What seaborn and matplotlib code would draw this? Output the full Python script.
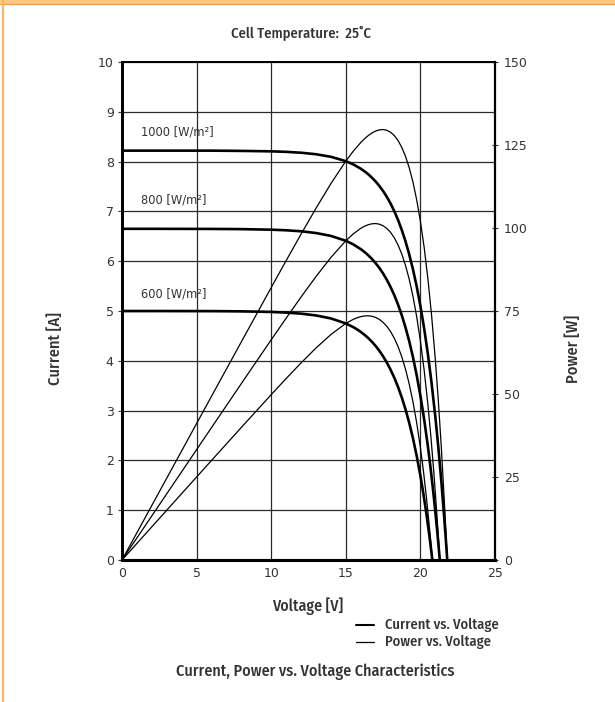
"""Solar module I-V / P-V characteristics at 25 C."""

import matplotlib
matplotlib.use("Agg")
import matplotlib.pyplot as plt
from matplotlib.lines import Line2D
from matplotlib.patches import Rectangle
import pandas as pd
import seaborn as sns

# --- values ------------------------------------------------------------------
IRRADIANCE = ["1000", "800", "600"]

V_1000 = [0, 2, 4, 6, 8, 10, 11, 12, 13, 14, 15, 15.5, 16, 16.25, 16.5, 16.75,
          17, 17.25, 17.5, 17.75, 18, 18.25, 18.5, 18.75, 19, 19.25, 19.5,
          19.75, 20, 20.25, 20.5, 20.75, 21, 21.2, 21.4, 21.6, 21.7, 21.8]
I_1000 = [8.22, 8.22, 8.22, 8.22, 8.215, 8.206, 8.196, 8.178, 8.148, 8.097,
          8.009, 7.944, 7.858, 7.806, 7.747, 7.678, 7.600, 7.511, 7.409, 7.292,
          7.158, 7.005, 6.830, 6.629, 6.400, 6.138, 5.839, 5.494, 5.101, 4.653,
          4.138, 3.550, 2.877, 2.269, 1.593, 0.839, 0.431, 0.0]
P_1000 = [0, 16.44, 32.88, 49.32, 65.72, 82.06, 90.16, 98.14, 105.92, 113.36,
          120.14, 123.13, 125.73, 126.85, 127.83, 128.61, 129.20, 129.56,
          129.66, 129.43, 128.84, 127.84, 126.36, 124.29, 121.60, 118.16,
          113.86, 108.51, 102.02, 94.22, 84.83, 73.66, 60.42, 48.10, 34.09,
          18.12, 9.35, 0]

V_800 = [0, 2, 4, 6, 8, 10, 11, 12, 13, 14, 15, 15.5, 16, 16.25, 16.5, 16.75,
         17, 17.25, 17.5, 17.75, 18, 18.25, 18.5, 18.75, 19, 19.25, 19.5,
         19.75, 20, 20.25, 20.5, 20.7, 20.9, 21.1, 21.2, 21.3]
I_800 = [6.65, 6.65, 6.649, 6.648, 6.644, 6.633, 6.621, 6.601, 6.566, 6.508,
         6.410, 6.337, 6.243, 6.186, 6.120, 6.046, 5.961, 5.864, 5.753, 5.626,
         5.482, 5.318, 5.130, 4.916, 4.671, 4.394, 4.075, 3.712, 3.298, 2.827,
         2.288, 1.803, 1.264, 0.665, 0.341, 0.0]
P_800 = [0, 13.30, 26.60, 39.89, 53.15, 66.33, 72.83, 79.21, 85.36, 91.11,
         96.15, 98.23, 99.89, 100.52, 100.98, 101.27, 101.34, 101.15, 100.68,
         99.86, 98.68, 97.05, 94.91, 92.18, 88.75, 84.58, 79.46, 73.31, 65.96,
         57.25, 46.90, 37.32, 26.42, 14.03, 7.23, 0]

V_600 = [0, 2, 4, 6, 8, 10, 11, 12, 13, 14, 15, 15.5, 15.75, 16, 16.25, 16.5,
         16.75, 17, 17.25, 17.5, 17.75, 18, 18.25, 18.5, 18.75, 19, 19.25,
         19.5, 19.75, 20, 20.2, 20.4, 20.6, 20.7, 20.8]
I_600 = [5.0, 5.0, 4.999, 4.998, 4.993, 4.981, 4.968, 4.947, 4.911, 4.851,
         4.750, 4.676, 4.632, 4.581, 4.523, 4.458, 4.383, 4.298, 4.201, 4.090,
         3.965, 3.822, 3.660, 3.476, 3.266, 3.027, 2.755, 2.445, 2.093, 1.692,
         1.332, 0.933, 0.490, 0.252, 0.0]
P_600 = [0, 10.0, 20.0, 29.99, 39.94, 49.81, 54.65, 59.36, 63.84, 67.91, 71.25,
         72.48, 72.95, 73.30, 73.50, 73.56, 73.42, 73.07, 72.47, 71.58, 70.38,
         68.80, 66.80, 64.31, 61.24, 57.51, 53.03, 47.68, 41.34, 33.84, 26.91,
         19.03, 10.09, 5.22, 0]

X_TICKS = [0, 5, 10, 15, 20, 25]
Y_TICKS = list(range(0, 11))
P_TICKS = [0, 25, 50, 75, 100, 125, 150]

LABEL_FONT = ["Fira Sans Condensed", "PT Sans Narrow", "DejaVu Sans"]
TEXT = "#333333"
ORANGE = "#F7B567"


def _frame(volts, values, name):
    return pd.DataFrame({"V": volts, "y": values, "curve": name})


sns.set_theme(style="white")
plt.rcParams.update({
    "font.family": ["DejaVu Sans"],
    "xtick.color": TEXT,
    "ytick.color": TEXT,
    "xtick.labelcolor": TEXT,
    "ytick.labelcolor": TEXT,
})

fig = plt.figure(figsize=(6.15, 7.02), dpi=100)
fig.patch.set_facecolor("white")

# orange page frame (top band + left rule)
fig.patches.append(Rectangle((0, 1 - 4 / 702), 1, 4 / 702, transform=fig.transFigure,
                             facecolor="#FFC782", edgecolor="none"))
fig.add_artist(Line2D([0, 1], [1 - 3.5 / 702] * 2, transform=fig.transFigure,
                      color="#F2A24E", lw=1.0))
fig.add_artist(Line2D([3 / 615] * 2, [0, 1], transform=fig.transFigure,
                      color=ORANGE, lw=1.6))

ax = fig.add_axes([122 / 615, (702 - 560) / 702, 373 / 615, 498 / 702])
ax2 = ax.twinx()

current = pd.concat([_frame(V_1000, I_1000, "1000"),
                     _frame(V_800, I_800, "800"),
                     _frame(V_600, I_600, "600")])
power = pd.concat([_frame(V_1000, P_1000, "1000"),
                   _frame(V_800, P_800, "800"),
                   _frame(V_600, P_600, "600")])

for name in IRRADIANCE:
    sns.lineplot(data=current[current["curve"] == name], x="V", y="y", ax=ax,
                 color="black", linewidth=1.9, sort=False, estimator=None)
    sns.lineplot(data=power[power["curve"] == name], x="V", y="y", ax=ax2,
                 color="black", linewidth=0.9, sort=False, estimator=None)

ax.set_xlim(0, 25)
ax.set_ylim(0, 10)
ax2.set_ylim(0, 150)
ax.set_xticks(X_TICKS)
ax.set_yticks(Y_TICKS)
ax2.set_yticks(P_TICKS)
ax.set_xlabel("")
ax.set_ylabel("")
ax2.set_ylabel("")

ax.grid(True, color="#2a2a2a", linewidth=0.9)
ax.set_axisbelow(True)
ax.tick_params(axis="y", direction="out", length=3, width=0.8, labelsize=9, pad=3)
ax.tick_params(axis="x", length=0, labelsize=9, pad=5)
ax2.tick_params(axis="y", direction="inout", length=5, width=0.8, labelsize=9, pad=4)

for a in (ax, ax2):
    for sp in a.spines.values():
        sp.set_color("black")
        sp.set_visible(True)
        sp.set_linewidth(1.3)
    a.spines["left"].set_linewidth(2.0)
    a.spines["bottom"].set_linewidth(2.2)
ax2.spines["right"].set_linewidth(1.6)

# irradiance labels
for name, y in zip(IRRADIANCE, [8.6, 7.22, 5.35]):
    ax.text(1.3, y, f"{name} [W/m²]", fontsize=8.3, color=TEXT, va="center", ha="left")

# texts around the chart
label_kw = dict(color=TEXT, family=LABEL_FONT, fontweight="medium")
fig.text(301 / 615, 1 - 33 / 702, "Cell Temperature:  25˚C", ha="center", va="center",
         fontsize=10.5, **label_kw)
fig.text(55 / 615, 1 - 349 / 702, "Current [A]", rotation=90, ha="center", va="center",
         fontsize=11.8, **label_kw)
fig.text(573 / 615, 1 - 349 / 702, "Power [W]", rotation=90, ha="center", va="center",
         fontsize=11.8, **label_kw)
fig.text(308 / 615, 1 - 606 / 702, "Voltage [V]", ha="center", va="center",
         fontsize=11.4, **label_kw)

for y_px, lw, label in [(625, 1.5, "Current vs. Voltage"), (642, 0.9, "Power vs. Voltage")]:
    fig.add_artist(Line2D([356 / 615, 374 / 615], [1 - y_px / 702] * 2,
                          transform=fig.transFigure, color="black", lw=lw))
    fig.text(385 / 615, 1 - y_px / 702, label, ha="left", va="center",
             fontsize=10.4, **label_kw)

fig.text(315 / 615, 1 - 672 / 702, "Current, Power vs. Voltage Characteristics",
         ha="center", va="center", fontsize=11.6, **label_kw)

fig.savefig("out.png", dpi=100, facecolor="white")
